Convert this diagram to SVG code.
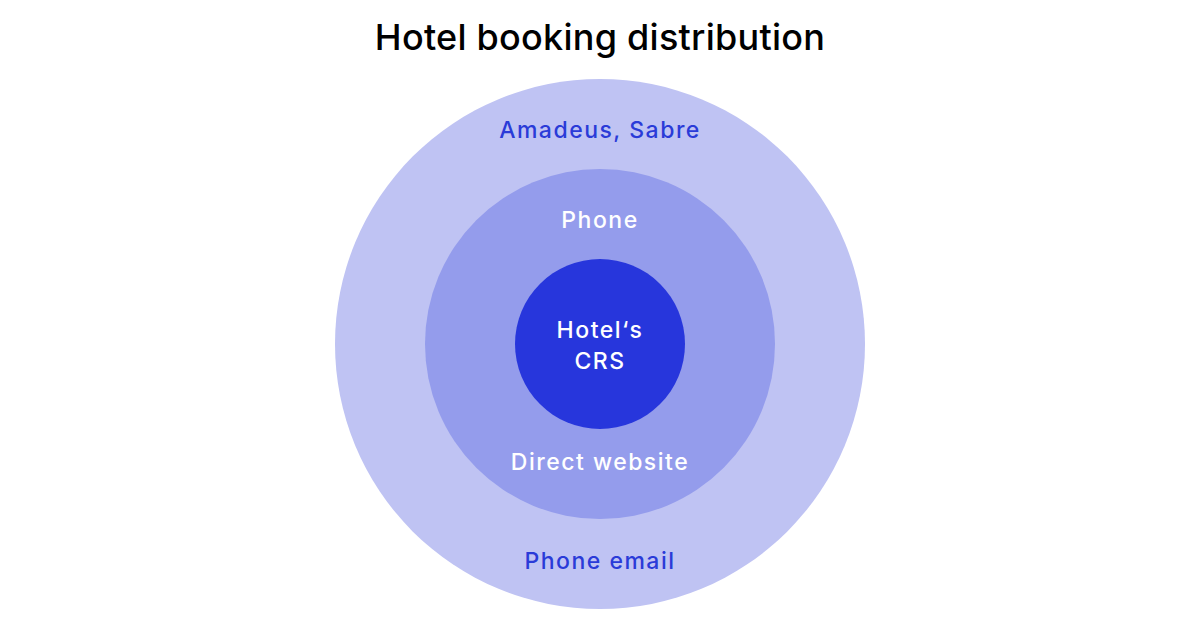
<svg xmlns="http://www.w3.org/2000/svg" width="1200" height="630" viewBox="0 0 1200 630">
<style>
text{font-family:Inter,"Noto Sans","Liberation Sans",sans-serif;text-anchor:middle}
.title{font-size:36px;font-weight:500;fill:#000;letter-spacing:0.25px}
.lbl{font-size:23px;font-weight:500;letter-spacing:1.5px}
.blue{fill:#2a3bd8}
.white{fill:#ffffff}
</style>
<rect width="1200" height="630" fill="#ffffff"/>
<text class="title" x="600" y="50">Hotel booking distribution</text>
<g id="outer">
<circle cx="600" cy="344" r="265" fill="#bfc3f3"/>
<text class="lbl blue" x="600" y="138">Amadeus, Sabre</text>
<text class="lbl blue" x="600" y="569">Phone email</text>
</g>
<g id="middle">
<circle cx="600" cy="344" r="175" fill="#949cec"/>
<text class="lbl white" x="600" y="228">Phone</text>
<text class="lbl white" x="600" y="470">Direct website</text>
</g>
<g id="inner">
<circle cx="600" cy="344" r="85" fill="#2736dc"/>
<text class="lbl white" x="600" y="338">Hotel‘s</text>
<text class="lbl white" x="600" y="369">CRS</text>
</g>
<g id="connectors"></g>
</svg>
